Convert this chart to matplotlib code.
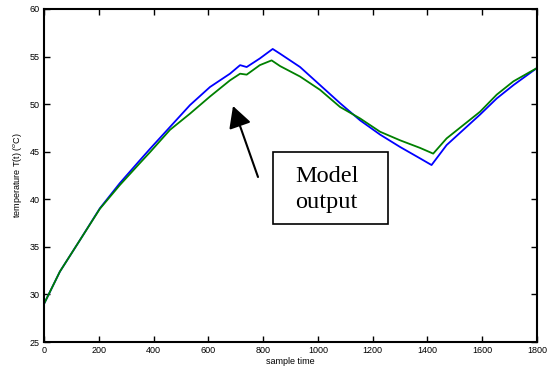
import matplotlib
matplotlib.use("Agg")
import matplotlib.pyplot as plt
from matplotlib.patches import Rectangle

# data
t_blue = [0, 58, 131, 204, 277, 350, 387, 460, 533, 606, 679, 716, 740, 788, 835, 862,
          935, 1008, 1081, 1154, 1227, 1300, 1373, 1415, 1470, 1531, 1592, 1653, 1714, 1800]
T_blue = [29.0, 32.4, 35.7, 39.05, 41.7, 44.1, 45.3, 47.6, 49.9, 51.8, 53.2, 54.1, 53.9,
          54.8, 55.8, 55.3, 53.9, 52.0, 50.1, 48.3, 46.8, 45.5, 44.3, 43.6, 45.7, 47.3,
          48.9, 50.6, 52.0, 53.8]
t_green = [0, 58, 131, 204, 277, 350, 387, 460, 533, 606, 679, 716, 740, 788, 831, 862,
           935, 1008, 1081, 1154, 1227, 1300, 1373, 1421, 1470, 1531, 1592, 1653, 1714, 1800]
T_green = [29.0, 32.4, 35.7, 39.0, 41.5, 43.8, 44.95, 47.3, 49.0, 50.8, 52.5, 53.2, 53.1,
           54.1, 54.6, 54.0, 52.9, 51.5, 49.7, 48.5, 47.1, 46.2, 45.4, 44.8, 46.4, 47.8,
           49.2, 51.0, 52.4, 53.8]
x_ticks = [0, 200, 400, 600, 800, 1000, 1200, 1400, 1600, 1800]
y_ticks = [25, 30, 35, 40, 45, 50, 55, 60]

plt.rcParams['font.family'] = ['Liberation Sans', 'DejaVu Sans']
W, H = 557, 369
fig = plt.figure(figsize=(W/100, H/100), dpi=100)
ax = fig.add_axes([44/W, 1-342/H, 493/W, 333/H])
ax.plot(t_blue, T_blue, color='#0000ff', lw=1.3)
ax.plot(t_green, T_green, color='#008000', lw=1.3)
ax.set_xlim(0, 1800)
ax.set_ylim(25, 60)
ax.set_xticks(x_ticks)
ax.set_yticks(y_ticks)
ax.tick_params(direction='in', length=4, width=1, labelsize=6.5, top=True, right=True,
               pad=3)
for s in ax.spines.values():
    s.set_linewidth(1.5)
ax.set_xlabel('sample time', fontsize=6.5, labelpad=1)
ax.set_ylabel('temperature T(t) ($^{o}$C)', fontsize=6.5, labelpad=4)

ax.annotate('', xy=(233/W, 1-106/H), xytext=(258/W, 1-177/H),
            xycoords='figure fraction', textcoords='figure fraction',
            arrowprops=dict(arrowstyle='-|>,head_length=1.3,head_width=0.7',
                            color='black', lw=1.5, shrinkA=0, shrinkB=0))
fig.add_artist(Rectangle((273/W, 1-224/H), 115/W, 72/H, transform=fig.transFigure,
                         fc='white', ec='black', lw=1.2))
fig.text(295/W, 1-182/H, 'Model', fontsize=17.5, family='Liberation Serif',
         ha='left', va='baseline')
fig.text(295/W, 1-208/H, 'output', fontsize=17.5, family='Liberation Serif',
         ha='left', va='baseline')
fig.savefig('out.png', dpi=100)
